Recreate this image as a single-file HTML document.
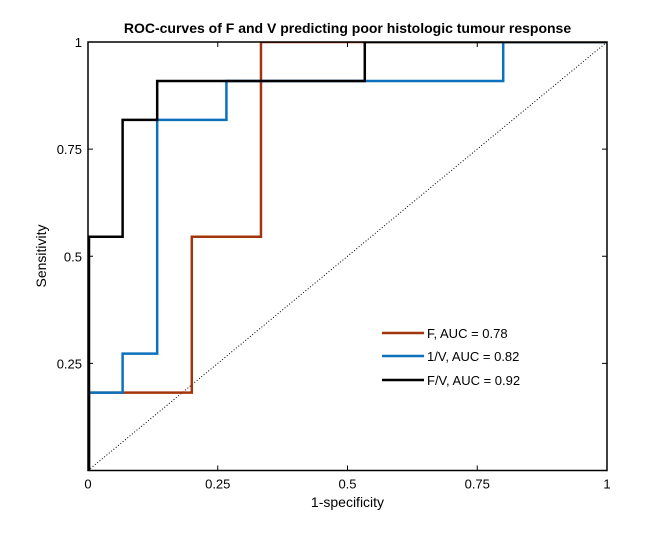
<!DOCTYPE html>
<html><head><meta charset="utf-8"><style>
body{margin:0;background:#fff}
svg text{font-family:"Liberation Sans",sans-serif;fill:#000}
</style></head><body>
<svg id="c" width="672" height="530">
<defs><clipPath id="clip"><rect x="88" y="42" width="519" height="428.5"/></clipPath></defs>
<rect x="0" y="0" width="672" height="530" fill="#fff"/>
<g id="plot"></g>
</svg>
<script>
const xTicks=[0,0.25,0.5,0.75,1];
const xTickLabels=["0","0.25","0.5","0.75","1"];
const yTicks=[0.25,0.5,0.75,1];
const yTickLabels=["0.25","0.5","0.75","1"];
const seriesNames=["F, AUC = 0.78","1/V, AUC = 0.82","F/V, AUC = 0.92"];
const fX=[0,0,0.2,0.2,0.3333,0.3333,1];
const fY=[0,0.1818,0.1818,0.5455,0.5455,1,1];
const vX=[0,0.0667,0.0667,0.1333,0.1333,0.2667,0.2667,0.8,0.8,1];
const vY=[0.1818,0.1818,0.2727,0.2727,0.8182,0.8182,0.9091,0.9091,1,1];
const fvX=[0,0,0.0667,0.0667,0.1333,0.1333,0.5333,0.5333,1];
const fvY=[0,0.5455,0.5455,0.8182,0.8182,0.9091,0.9091,1,1];
const colors=["#a2350b","#0b71bd","#000000"];
const L=88,R=607,T=42,B=470.5;
const sx=v=>L+v*(R-L), sy=v=>B-v*(B-T);
const NS="http://www.w3.org/2000/svg";
const g=document.getElementById('plot');
function mk(tag,attrs,parent){const e=document.createElementNS(NS,tag);for(const k in attrs)e.setAttribute(k,attrs[k]);(parent||g).appendChild(e);return e;}
const cg=mk('g',{'clip-path':'url(#clip)'});
let d=mk('line',{x1:sx(0),y1:sy(0),x2:sx(1),y2:sy(1),stroke:'#000','stroke-width':1,'stroke-dasharray':'1,2'},cg);


const series=[[fX,fY],[vX,vY],[fvX,fvY]];
const snames=['curve-f','curve-1-over-v','curve-f-over-v'];
series.forEach((s,i)=>{
  const pts=s[0].map((x,j)=>(sx(x)+(x===0?1:0))+','+sy(s[1][j])).join(' ');
  const p=mk('polyline',{points:pts,fill:'none',stroke:colors[i],'stroke-width':2.5},cg);
  
  
});
const bx=mk('rect',{x:L,y:T,width:R-L,height:B-T,fill:'none',stroke:'#000','stroke-width':1.5});


xTicks.forEach((v,i)=>{
  mk('line',{x1:sx(v),y1:B,x2:sx(v),y2:B-5,stroke:'#000'});
  mk('line',{x1:sx(v),y1:T,x2:sx(v),y2:T+5,stroke:'#000'});
  const t=mk('text',{x:sx(v),y:B+18,'text-anchor':'middle','font-size':13});
  t.textContent=xTickLabels[i];
  
  
});
yTicks.forEach((v,i)=>{
  mk('line',{x1:L,y1:sy(v),x2:L+5,y2:sy(v),stroke:'#000'});
  mk('line',{x1:R,y1:sy(v),x2:R-5,y2:sy(v),stroke:'#000'});
  const t=mk('text',{x:L-6,y:sy(v)+5,'text-anchor':'end','font-size':13});
  t.textContent=yTickLabels[i];
  
  
});
let t=mk('text',{x:(L+R)/2,y:33,'text-anchor':'middle','font-size':14,'font-weight':'bold'});
t.textContent='ROC-curves of F and V predicting poor histologic tumour response';


t=mk('text',{x:(L+R)/2,y:507,'text-anchor':'middle','font-size':14});
t.textContent='1-specificity';


t=mk('text',{x:0,y:0,'text-anchor':'middle','font-size':14,transform:'translate(46,256) rotate(-90)'});
t.textContent='Sensitivity';


const legY=[333,356,380];
seriesNames.forEach((n,i)=>{
  const l=mk('line',{x1:382,y1:legY[i],x2:424,y2:legY[i],stroke:colors[i],'stroke-width':2.5});
  
  
  const tx=mk('text',{x:427,y:legY[i]+5,'font-size':13});
  tx.textContent=n;
  
  
});
</script>
</body></html>
